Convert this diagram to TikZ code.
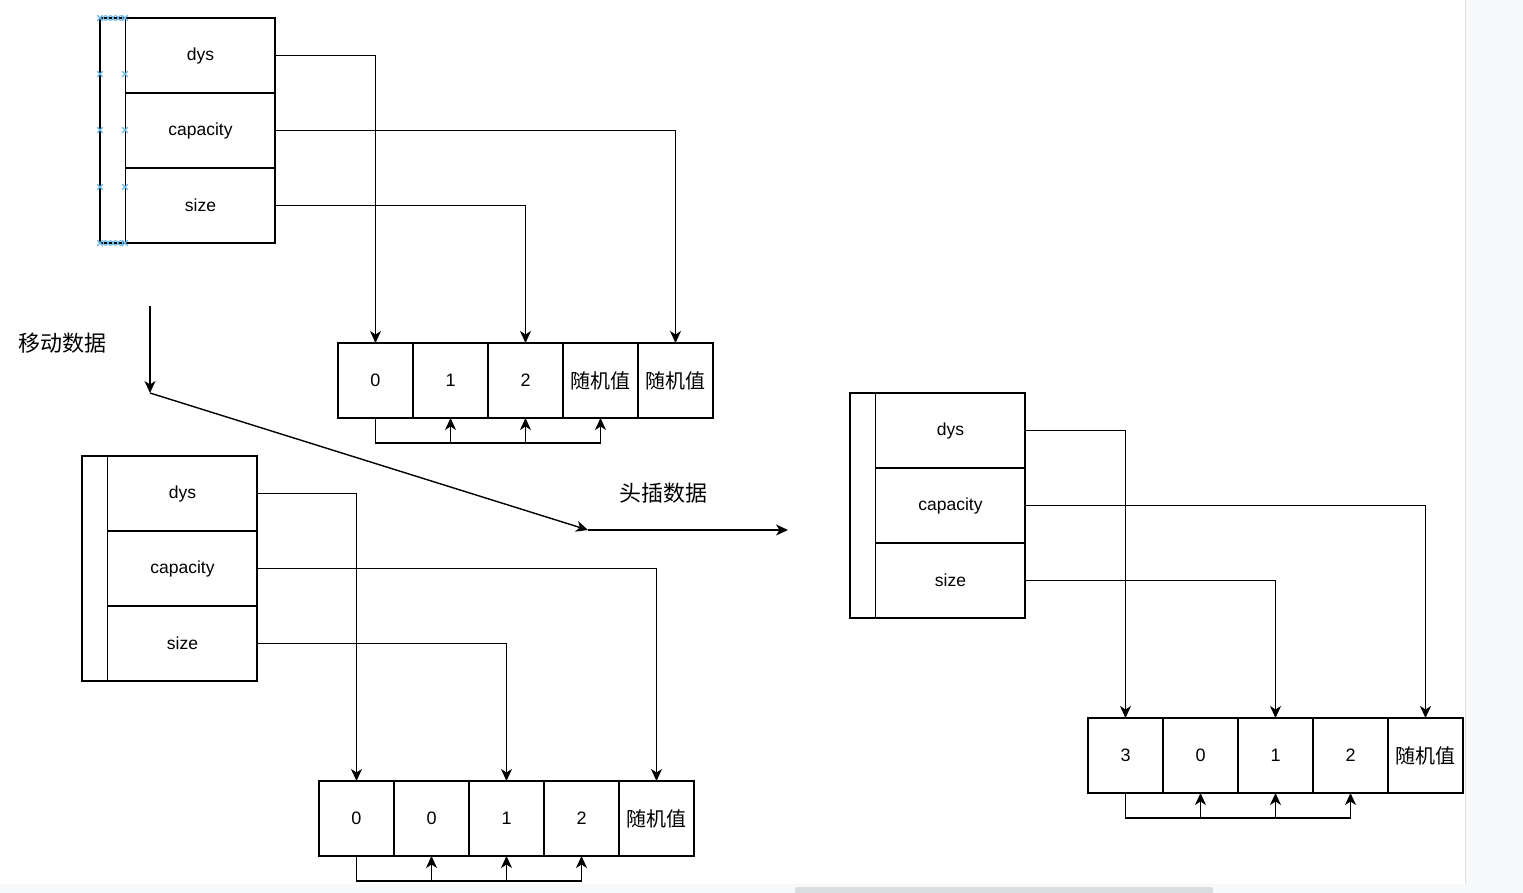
\documentclass[tikz,border=0pt]{standalone}
\usepackage{fontspec}
\setmainfont{Liberation Sans}
\newfontfamily\cjk{Noto Sans CJK SC}
\usetikzlibrary{arrows.meta}
\definecolor{hblue}{HTML}{6BB8E6}
\definecolor{bgstrip}{HTML}{F8F9FA}
\definecolor{sbar}{HTML}{DADCE0}
\tikzset{
  cell/.style={draw=black,line width=1.2pt,minimum width=75pt,minimum height=75pt,inner sep=0pt,outer sep=0pt,font=\fontsize{18}{20}\selectfont},
  row/.style={draw=black,line width=1.2pt,minimum width=150pt,minimum height=75pt,inner sep=0pt,outer sep=0pt,font=\fontsize{17.5}{20}\selectfont},
  frame/.style={draw=black,line width=1.2pt,minimum width=175pt,minimum height=225pt,inner sep=0pt,outer sep=0pt},
  arr/.style={draw=black,line width=1.4pt,-{Stealth[length=12pt,width=11pt,inset=3.5pt]}},
  lbl/.style={font=\cjk\fontsize{22}{24}\selectfont,inner sep=0pt},
  hx/.style={draw=hblue,line width=1.1pt},
}
\newcommand{\rv}{\cjk\fontsize{20}{22}\selectfont 随机值}
\begin{document}
\begin{tikzpicture}[x=1pt,y=-1pt]
\useasboundingbox (0,0) rectangle (1523,893);
\fill[white] (0,0) rectangle (1523,893);
\fill[bgstrip] (1465,0) rectangle (1523,893);
\fill[bgstrip] (0,884) rectangle (1465,893);
\draw[gray!25,line width=1pt] (1465,0) -- (1465,884);
\fill[sbar,rounded corners=3pt] (795,887) rectangle (1213,896);

% ---------- top-left struct ----------
\node[frame] (tf) at (187.5,130.5) {};
\node[row] (td) at (200.5,55.5) {dys};
\node[row] (tc) at (200.5,130.5) {capacity};
\node[row] (ts) at (200.5,205.5) {size};
% selection handles
\foreach \yy in {18,74,130,187,243}{
  \foreach \xx in {100,125}{
    \draw[hx] (\xx-2.8,\yy-2.8) -- (\xx+2.8,\yy+2.8) (\xx-2.8,\yy+2.8) -- (\xx+2.8,\yy-2.8);
  }
}
\foreach \yy in {18,243}{
  \foreach \xx in {105.5,110.5,115.5,120.5}{
    \draw[hx] (\xx,\yy) circle (2.3);
  }
}

% ---------- top array ----------
\node[cell] (ta0) at (375.5,380.5) {0};
\node[cell] (ta1) at (450.5,380.5) {1};
\node[cell] (ta2) at (525.5,380.5) {2};
\node[cell] (ta3) at (600.5,380.5) {\rv};
\node[cell] (ta4) at (675.5,380.5) {\rv};
\draw[arr] (td.east) -| (ta0.north);
\draw[arr] (tc.east) -| (ta4.north);
\draw[arr] (ts.east) -| (ta2.north);
\path (ta0.south) ++(0,25) coordinate (tb);
\draw[arr] (ta0.south) -- (tb) -| (ta3.south);
\draw[arr] (tb -| ta1.south) -- (ta1.south);
\draw[arr] (tb -| ta2.south) -- (ta2.south);

% ---------- labels and transition arrows ----------
\node[lbl] (lm) at (63,343) {移动数据};
\node[lbl] (lh) at (663,493) {头插数据};
\coordinate (m1) at (150,306);
\coordinate (m2) at (150,393);
\coordinate (m3) at (588,530);
\coordinate (m4) at (788,530);
\draw[arr] (m1) -- (m2);
\draw[arr] (m2) -- (m3);
\draw[arr] (m3) -- (m4);

% ---------- bottom-left struct ----------
\node[frame] (bf) at (169.5,568.5) {};
\node[row] (bd) at (182.5,493.5) {dys};
\node[row] (bc) at (182.5,568.5) {capacity};
\node[row] (bs) at (182.5,643.5) {size};

% ---------- bottom array ----------
\node[cell] (ba0) at (356.5,818.5) {0};
\node[cell] (ba1) at (431.5,818.5) {0};
\node[cell] (ba2) at (506.5,818.5) {1};
\node[cell] (ba3) at (581.5,818.5) {2};
\node[cell] (ba4) at (656.5,818.5) {\rv};
\draw[arr] (bd.east) -| (ba0.north);
\draw[arr] (bc.east) -| (ba4.north);
\draw[arr] (bs.east) -| (ba2.north);
\path (ba0.south) ++(0,25) coordinate (bb);
\draw[arr] (ba0.south) -- (bb) -| (ba3.south);
\draw[arr] (bb -| ba1.south) -- (ba1.south);
\draw[arr] (bb -| ba2.south) -- (ba2.south);

% ---------- right struct ----------
\node[frame] (rf) at (937.5,505.5) {};
\node[row] (rd) at (950.5,430.5) {dys};
\node[row] (rc) at (950.5,505.5) {capacity};
\node[row] (rs) at (950.5,580.5) {size};

% ---------- right array ----------
\node[cell] (ra0) at (1125.5,755.5) {3};
\node[cell] (ra1) at (1200.5,755.5) {0};
\node[cell] (ra2) at (1275.5,755.5) {1};
\node[cell] (ra3) at (1350.5,755.5) {2};
\node[cell] (ra4) at (1425.5,755.5) {\rv};
\draw[arr] (rd.east) -| (ra0.north);
\draw[arr] (rc.east) -| (ra4.north);
\draw[arr] (rs.east) -| (ra2.north);
\path (ra0.south) ++(0,25) coordinate (rb);
\draw[arr] (ra0.south) -- (rb) -| (ra3.south);
\draw[arr] (rb -| ra1.south) -- (ra1.south);
\draw[arr] (rb -| ra2.south) -- (ra2.south);
\end{tikzpicture}
\end{document}
